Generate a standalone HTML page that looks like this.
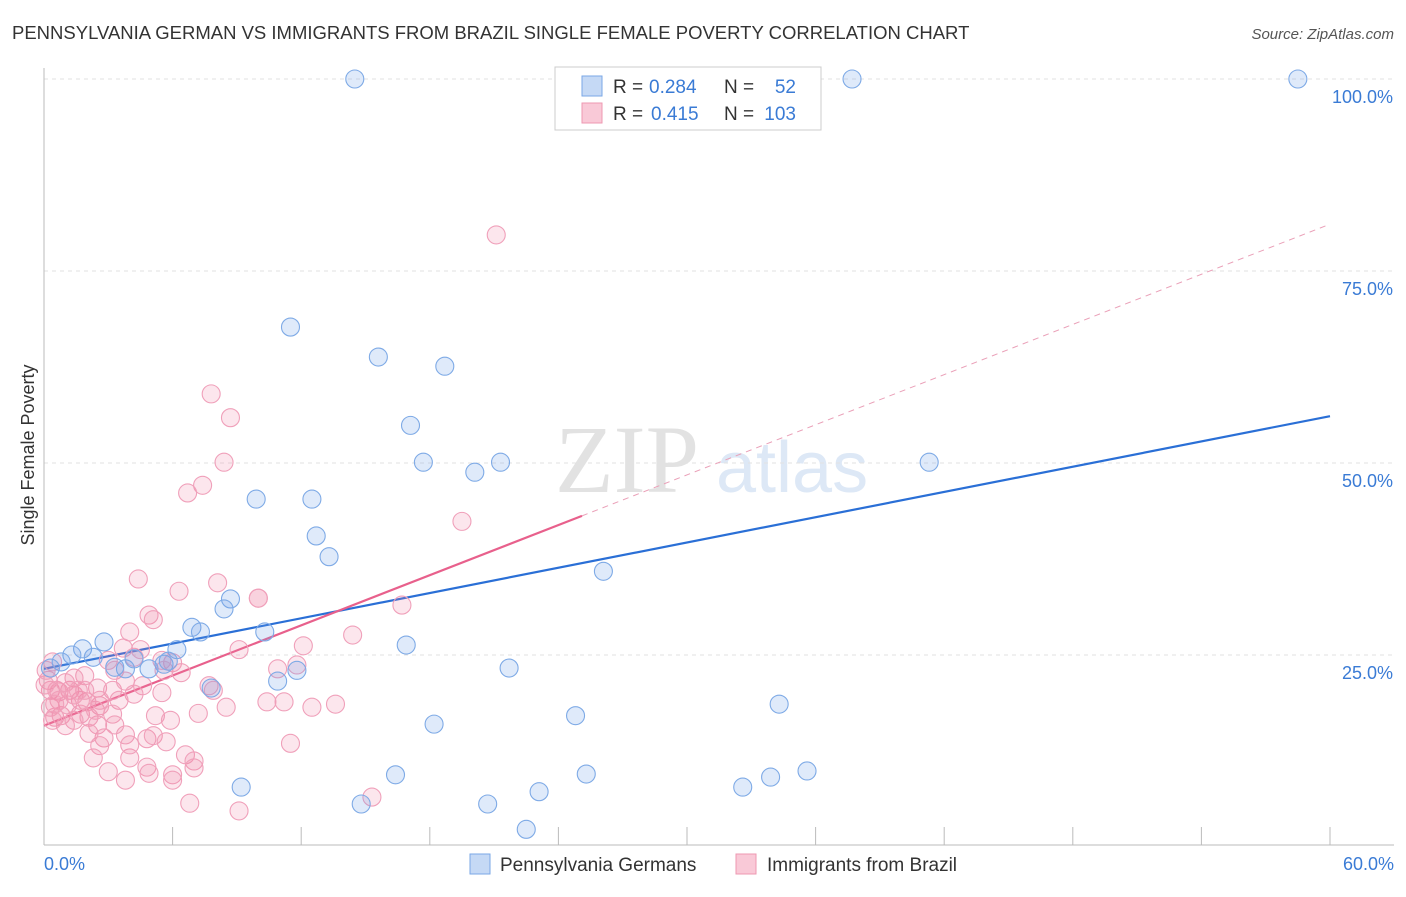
<!DOCTYPE html>
<html><head><meta charset="utf-8"><style>
body{margin:0;background:#fff;font-family:"Liberation Sans",sans-serif}
</style></head><body>
<svg width="1406" height="892" xmlns="http://www.w3.org/2000/svg">
<text x="12" y="39" font-size="18.5" fill="#333">PENNSYLVANIA GERMAN VS IMMIGRANTS FROM BRAZIL SINGLE FEMALE POVERTY CORRELATION CHART</text>
<text x="1394" y="39" font-size="15" fill="#555" font-style="italic" text-anchor="end">Source: ZipAtlas.com</text>
<text x="555" y="492" font-size="96" font-family="Liberation Serif,serif" fill="#e2e2e2">ZIP</text>
<text x="716" y="492" font-size="72" fill="#dde8f6">atlas</text>
<g id="grid"></g>
<g id="axes"></g>
<g id="lines"></g>
<g id="pts"></g>
<text transform="translate(34,455) rotate(-90)" font-size="18" fill="#333" text-anchor="middle">Single Female Poverty</text>
<text x="44" y="870" font-size="18" fill="#3a7bd5">0.0%</text>
<text x="1394" y="870" font-size="18" fill="#3a7bd5" text-anchor="end">60.0%</text>
<g>
<rect x="555" y="67" width="266" height="63" fill="#fff" stroke="#ccc"/>
<rect x="582" y="76" width="20" height="20" fill="#c5d9f5" stroke="#7aa7e6"/>
<rect x="582" y="103" width="20" height="20" fill="#f9c9d7" stroke="#ee98b2"/>
<text x="613" y="93" font-size="19" fill="#333">R =</text>
<text x="649" y="93" font-size="19" fill="#3a7bd5">0.284</text>
<text x="724" y="93" font-size="19" fill="#333">N =</text>
<text x="796" y="93" font-size="19" fill="#3a7bd5" text-anchor="end">52</text>
<text x="613" y="120" font-size="19" fill="#333">R =</text>
<text x="651" y="120" font-size="19" fill="#3a7bd5">0.415</text>
<text x="724" y="120" font-size="19" fill="#333">N =</text>
<text x="796" y="120" font-size="19" fill="#3a7bd5" text-anchor="end">103</text>
</g>
<g>
<rect x="470" y="854" width="20" height="20" fill="#c5d9f5" stroke="#7aa7e6"/>
<text x="500" y="871" font-size="19" fill="#333">Pennsylvania Germans</text>
<rect x="736" y="854" width="20" height="20" fill="#f9c9d7" stroke="#ee98b2"/>
<text x="767" y="871" font-size="19" fill="#333">Immigrants from Brazil</text>
</g>
</svg>
<script>
const yTicks=[25,50,75,100];
const yTickLabels=["25.0%","50.0%","75.0%","100.0%"];
const blueX=[14.5,37.7,58.5,11.5,15.6,18.7,17.1,17.7,20.1,21.3,41.3,9.9,12.5,12.7,13.3,26.1,8.7,8.4,6.9,7.3,10.3,16.9,2.8,1.8,1.3,0.8,0.3,2.3,6.2,5.6,3.8,4.9,5.8,7.8,10.9,11.8,21.7,34.3,18.2,24.8,16.4,25.3,9.2,35.6,33.9,32.6,14.8,20.7,23.1,22.5,4.2,3.3];
const blueY=[100,100,100,67.7,63.8,62.6,54.9,50.1,48.8,50.1,50.1,45.3,45.3,40.5,37.8,35.9,32.3,31.0,28.6,28.0,28.0,26.3,26.7,25.8,25.0,24.1,23.3,24.7,25.7,23.8,23.2,23.2,24.2,20.7,21.6,23.0,23.3,18.6,16.0,17.1,9.4,9.5,7.8,9.9,9.1,7.8,5.6,5.6,7.2,2.3,24.5,23.4];
const pinkX=[21.1,7.8,8.7,8.4,7.4,6.7,19.5,4.4,8.1,6.3,10.0,16.7,4.9,5.1,4.0,14.4,12.1,3.7,3.0,4.2,6.0,5.5,10.9,11.8,6.4,3.3,0.4,0.2,0.3,0.7,1.2,1.9,1.4,2.5,3.2,3.8,4.6,4.2,5.5,5.6,7.7,7.9,10.4,11.2,12.5,13.6,8.5,7.2,5.2,5.9,2.6,2.0,1.7,2.1,0.5,0.8,1.4,0.6,1.0,2.5,2.8,3.8,4.8,5.1,2.6,5.7,4.0,6.6,7.0,2.3,3.0,4.8,4.9,6.0,6.0,3.8,7.0,6.8,9.1,15.3,11.5,0.3,0.05,3.5,1.7,1.1,3.2,2.1,4.5,0.7,0.5,1.4,2.4,3.3,4.0,1.9,1.0,0.1,0.4,1.6,2.6,9.1,10.0];
const pinkY=[79.7,59.0,55.9,50.1,47.1,46.1,42.4,34.9,34.4,33.3,32.4,31.5,30.2,29.6,28.0,27.6,26.2,25.9,24.3,24.7,24.0,24.3,23.2,23.7,22.7,23.0,24.1,21.7,20.4,20.2,20.4,22.3,22.0,20.7,20.4,21.6,21.0,19.9,20.1,23.0,21.0,20.4,18.9,18.9,18.2,18.6,18.2,17.4,17.1,16.5,18.4,18.9,17.3,16.9,16.9,17.1,16.5,20.4,15.8,15.9,14.2,14.6,14.1,14.5,13.2,13.7,11.6,12.0,11.2,11.6,9.8,10.4,9.6,9.4,8.7,8.7,10.3,5.7,4.7,6.5,13.5,18.2,21.1,19.1,19.1,18.5,17.3,14.8,25.7,19.1,18.6,19.8,17.8,15.9,13.3,20.4,21.4,23.0,16.5,20.4,19.1,25.7,32.4];
const blueTrend=[23.2,56.1];
const pinkTrend=[15.8,81.1];
const pinkSolidEnd=25.1;
const X0=44,X1=1330,Y0=847,Y1=79;
const sx=v=>X0+(X1-X0)*v/60, sy=v=>Y0-(Y0-Y1)*v/100;
const NS="http://www.w3.org/2000/svg";
function mk(parent,tag,attrs){const e=document.createElementNS(NS,tag);for(const k in attrs)e.setAttribute(k,attrs[k]);document.getElementById(parent).appendChild(e);return e;}
yTicks.forEach((t,i)=>{
 const l=mk('grid','line',{x1:X0,x2:1394,y1:sy(t),y2:sy(t),stroke:'#e2e2e2','stroke-dasharray':'4 4'});
 
 
 const tx=mk('grid','text',{x:1393,y:sy(t)+24,'font-size':18,fill:'#3a7bd5','text-anchor':'end'});
 tx.textContent=yTickLabels[i];
 
 
});
const ax=mk('axes','line',{x1:X0,x2:X0,y1:68,y2:845,stroke:'#bbb'});


const bx=mk('axes','line',{x1:X0,x2:1394,y1:845,y2:845,stroke:'#bbb'});


for(let i=0;i<=10;i++){const t=mk('axes','line',{x1:sx(i*6),x2:sx(i*6),y1:827,y2:845,stroke:'#bbb'});
 
 }
function pt(x,y,cls){const c=mk('pts','circle',{cx:sx(x),cy:sy(y),r:9,fill:cls?'rgba(240,130,165,0.2)':'rgba(110,160,230,0.22)',stroke:cls?'#f0a0ba':'#7eaae6','stroke-width':1.1});return c;}
pinkX.forEach((x,i)=>{const c=pt(x,pinkY[i],1);
 
 });
blueX.forEach((x,i)=>{const c=pt(x,blueY[i],0);
 
 });
const bl=mk('lines','line',{x1:sx(0),y1:sy(blueTrend[0]),x2:sx(60),y2:sy(blueTrend[1]),stroke:'#2a6fd6','stroke-width':2.2});


const pm=v=>pinkTrend[0]+(pinkTrend[1]-pinkTrend[0])*v/60;
const pl=mk('lines','line',{x1:sx(0),y1:sy(pinkTrend[0]),x2:sx(pinkSolidEnd),y2:sy(pm(pinkSolidEnd)),stroke:'#e8608c','stroke-width':2.2});


const pd=mk('lines','line',{x1:sx(pinkSolidEnd),y1:sy(pm(pinkSolidEnd)),x2:sx(60),y2:sy(pinkTrend[1]),stroke:'#eaa0b8','stroke-width':1,'stroke-dasharray':'6 5'});


</script>
</body></html>
